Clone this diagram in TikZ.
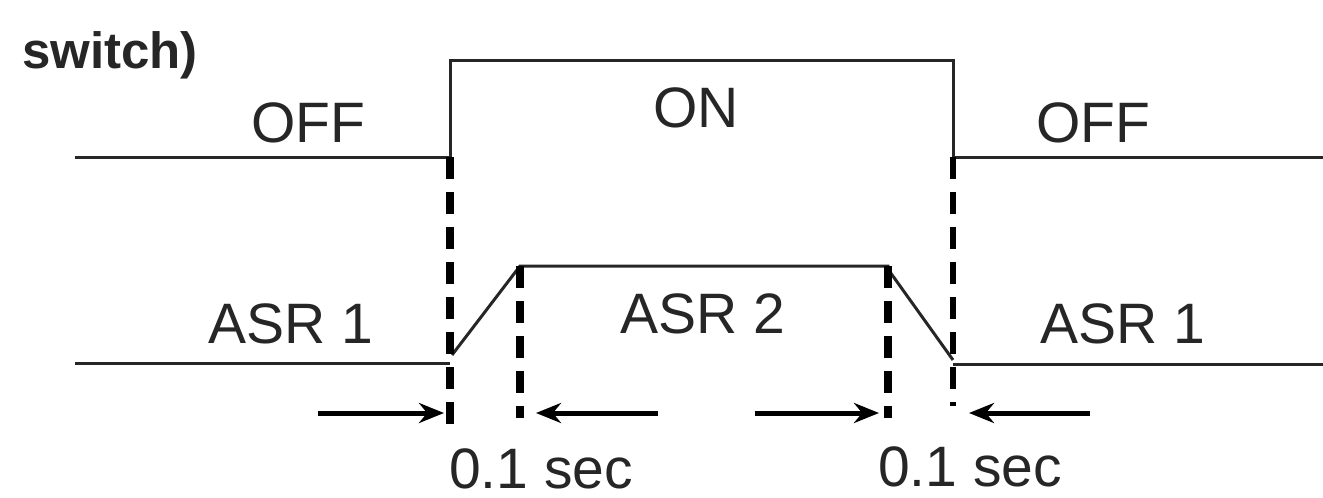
\documentclass[tikz,border=0pt]{standalone}
\usepackage{fontspec}
\setmainfont{Liberation Sans}
\usetikzlibrary{arrows.meta}
\begin{document}
\begin{tikzpicture}[x=1pt,y=-1pt,
  sig/.style={line width=3pt, draw=black!85},
  guide/.style={line width=7.5pt, dash pattern=on 22pt off 13pt},
  guidethin/.style={line width=6pt, dash pattern=on 22pt off 13pt},
  span/.style={line width=5pt, -{Stealth[length=25pt,width=20pt]}},
  lbl/.style={anchor=base, inner sep=0pt, font=\fontsize{57}{60}\selectfont, text=black!85},
  hdr/.style={anchor=base west, inner sep=0pt, font=\fontsize{51}{54}\selectfont\bfseries, text=black!85}]
\useasboundingbox (0,0) rectangle (1323,498);
% coordinates of top signal
\coordinate (t0) at (75,157);
\coordinate (t1) at (450,157);
\coordinate (t2) at (450,60);
\coordinate (t3) at (953,60);
\coordinate (t4) at (953,157);
\coordinate (t5) at (1323,157);
% bottom signal
\coordinate (b0) at (75,363);
\coordinate (b1) at (450,363);
\coordinate (b1r) at (452,355);
\coordinate (b2) at (520,266);
\coordinate (b3) at (888,266);
\coordinate (b3r) at (890,272);
\coordinate (b4) at (953,360);
\coordinate (b4r) at (953,364);
\coordinate (b5) at (1323,364);
% guide ends
\coordinate (g1e) at (450,427);
\coordinate (g2e) at (520,418);
\coordinate (g3e) at (888,418);
\coordinate (g4e) at (953,406);
% arrows
\coordinate (a1s) at (318,413); \coordinate (a1e) at (444,413);
\coordinate (a2s) at (658,413); \coordinate (a2e) at (536,413);
\coordinate (a3s) at (755,413); \coordinate (a3e) at (879,413);
\coordinate (a4s) at (1090,413); \coordinate (a4e) at (969,413);

\draw[sig] (t0) -- (t1) -- (t2) -- (t3) -- (t4) -- (t5);
\draw[sig] (b0) -- (b1);
\draw[sig] (b1r) -- (b2) -- (b3) -- (b3r) -- (b4);
\draw[sig] (b4r) -- (b5);

\draw[guide] (t1) -- (g1e);
\draw[guide] (b2) -- (g2e);
\draw[guide] (b3) -- (g3e);
\draw[guidethin] (t4) -- (g4e);

\draw[span] (a1s) -- (a1e);
\draw[span] (a2s) -- (a2e);
\draw[span] (a3s) -- (a3e);
\draw[span] (a4s) -- (a4e);

\node[hdr] (sw) at (22,68) {switch)};
\node[lbl] (off1) at (308,142) {OFF};
\node[lbl] (on) at (696,127) {ON};
\node[lbl] (off2) at (1093,142) {OFF};
\node[lbl] (asr1a) at (291,343) {ASR 1};
\node[lbl] (asr2) at (703,333) {ASR 2};
\node[lbl] (asr1b) at (1123,343) {ASR 1};
\node[lbl] (s1) at (541,488) {0.1 sec};
\node[lbl] (s2) at (970,486) {0.1 sec};
\end{tikzpicture}
\end{document}
